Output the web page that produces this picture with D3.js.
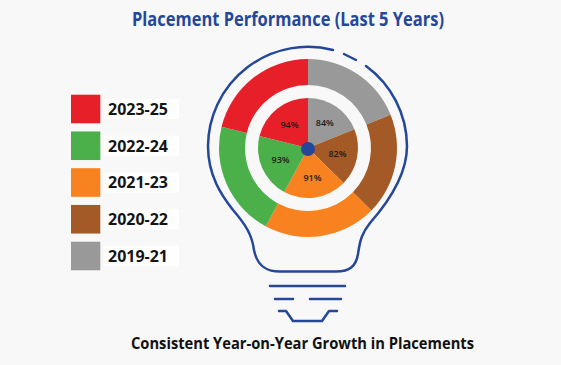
<!DOCTYPE html>
<html><head><meta charset="utf-8">
<script src="https://cdnjs.cloudflare.com/ajax/libs/d3/7.8.5/d3.min.js"></script>
<style>html,body{margin:0;padding:0;background:#f8f8f8}svg{display:block}text{font-family:"Open Sans",sans-serif}</style>
</head><body><div id="c"></div>
<script>
const titleText = "Placement Performance (Last 5 Years)";
const subtitleText = "Consistent Year-on-Year Growth in Placements";
const categories = ["2019-21","2020-22","2021-23","2022-24","2023-25"];
const values = [84,82,91,93,94];
const colors = ["#999999","#a45a26","#f7821f","#4cb04a","#e71f28"];
const legendOrder = ["2023-25","2022-24","2021-23","2020-22","2019-21"];

const W=561,H=365,cx=308,cy=148,navy="#24479a";
const svg=d3.select("#c").append("svg").attr("width",W).attr("height",H);
svg.append("rect").attr("width",W).attr("height",H).attr("fill","#f8f8f8");
const color=d3.scaleOrdinal().domain(categories).range(colors);

svg.append("text").attr("x",132).attr("y",26).attr("textLength",312).attr("lengthAdjust","spacingAndGlyphs")
  .attr("font-size",19).attr("font-weight",700).attr("fill",navy).text(titleText);
svg.append("text").attr("x",131).attr("y",349).attr("textLength",343).attr("lengthAdjust","spacingAndGlyphs")
  .attr("font-size",15.5).attr("font-weight",700).attr("fill","#111").text(subtitleText);

// Bulb outline (decoration)
const g=svg.append("g").attr("fill","none").attr("stroke",navy).attr("stroke-width",2.5).attr("stroke-linecap","round").attr("stroke-linejoin","round");
g.append("path").attr("d","M333,50 A100,100 0 0 0 208,146 C208,176 222,196 233,210 C246,225 252,235 254,250 C257,265 265,271.5 280,271.5 L336,271.5 C350,271.5 356,266 358,254 C360,240 362,233 370,223 C392,198 407,172 407,146 A100,100 0 0 0 366,66");
g.append("path").attr("d","M344,54 L356,60");
g.append("path").attr("d","M270,286 L345,286");
g.append("path").attr("d","M275,299 L293,299");
g.append("path").attr("d","M310,299 L341,299");
g.append("path").attr("d","M279,311 L286,311 L293,321 L322,321 L329,311 L337,311");

const pie=d3.pie().sort(null).value(d=>d.v)(categories.map((c,i)=>({c,v:values[i]})));
const outer=d3.arc().innerRadius(63).outerRadius(89);
const inner=d3.arc().innerRadius(0).outerRadius(50);
const chart=svg.append("g").attr("transform",`translate(${cx},${cy})`);
chart.selectAll("path.o").data(pie).join("path").attr("class","o").attr("d",outer).attr("fill",d=>color(d.data.c));
chart.selectAll("path.i").data(pie).join("path").attr("class","i").attr("d",inner).attr("fill",d=>color(d.data.c));
chart.append("circle").attr("cy",1).attr("r",7).attr("fill",navy);
const lab=d3.arc().innerRadius(30).outerRadius(30);
chart.selectAll("text").data(pie).join("text").attr("transform",d=>`translate(${lab.centroid(d)})`)
  .attr("text-anchor","middle").attr("dy","0.35em").attr("font-size",9).attr("font-weight",600).attr("fill","#1a1a1a")
  .text(d=>d.data.v+"%");

// Legend
const ly=d3.scalePoint().domain(legendOrder).range([109,256]);
const leg=svg.append("g").selectAll("g").data(legendOrder).join("g").attr("transform",d=>`translate(0,${ly(d)})`);
leg.append("rect").attr("x",71).attr("y",-14.3).attr("width",29.3).attr("height",28.6).attr("fill",d=>color(d));
leg.append("rect").attr("x",104).attr("y",-10).attr("width",75).attr("height",20).attr("fill","#fff");
leg.append("text").attr("x",108).attr("y",0).attr("dy","0.36em").attr("textLength",60).attr("lengthAdjust","spacingAndGlyphs")
  .attr("font-size",16).attr("font-weight",700).attr("fill","#151515").text(d=>d);
</script></body></html>
